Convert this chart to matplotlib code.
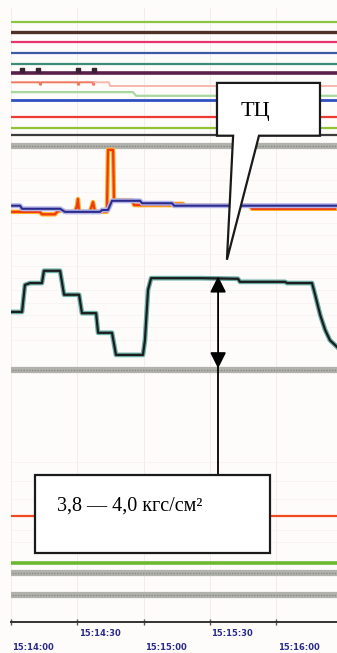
import matplotlib.pyplot as plt
from matplotlib.patches import Polygon, Rectangle
from matplotlib.transforms import blended_transform_factory

# time axis, seconds from start of record (one tick every 30 s)
tick_t = [0, 30, 60, 90, 120]
tick_lbl = ["15:14:00", "15:14:30", "15:15:00", "15:15:30", "15:16:00"]
t_end = 147.5

# flat channels at the top, chart scale 0..100
top_levels = [97.7, 96.1, 94.4, 92.7, 90.9, 89.4, 85.0, 82.2, 80.5, 79.3]
top_colors = ["#8cc63f", "#4e3029", "#e8336e", "#3d5aa6", "#3c8c78",
              "#5a1f4a", "#3050c0", "#ee3a30", "#92c232", "#3c3c3c"]
top_widths = [1.6, 2.4, 1.6, 1.6, 1.6, 2.6, 2.0, 1.6, 1.6, 1.6]

# salmon channel with small dips and a step down
salmon_t = [0.5, 13.0, 13.1, 13.6, 13.7, 30.2, 30.3, 30.8, 30.9, 37.0, 37.1, 37.6, 37.7, 44.3, 44.8, t_end]
salmon_v = [87.9, 87.9, 87.5, 87.5, 87.9, 87.9, 87.5, 87.5, 87.9, 87.9, 87.5, 87.5, 87.9, 87.9, 87.3, 87.3]

# light green channel
lgreen_t = [0.5, 55.2, 56.6, t_end]
lgreen_v = [86.3, 86.3, 85.7, 85.7]

# event marks on the purple channel
mark_t = [5.0, 12.2, 30.3, 37.6]
mark_v = [89.9, 89.9, 89.9, 89.9]

# middle panel: blue and orange step traces
blue_t = [0.5, 4.1, 5.0, 22.2, 23.1, 24.4, 40.3, 41.2, 43.9, 45.7, 58.4, 59.3, 72.9, 73.8, t_end]
blue_v = [67.8, 67.8, 67.3, 67.3, 67.1, 66.8, 66.8, 67.1, 67.1, 68.6, 68.6, 68.2, 68.2, 67.8, 67.8]

orange_t = [0.5, 13.1, 14.0, 19.9, 20.8, 23.1, 24.9, 29.0, 29.9, 30.3, 30.8, 35.7, 36.7, 37.1, 38.0,
            43.4, 43.9, 46.2, 46.6, 54.8, 55.7, 72.9, 73.8, 77.8, 78.7, 108.1, 109.1, 146.6]
orange_v = [66.8, 66.8, 66.4, 66.4, 66.8, 67.1, 66.8, 66.8, 67.9, 68.9, 66.8, 66.8, 67.9, 68.4, 66.8,
            66.8, 76.9, 76.9, 68.7, 68.7, 67.9, 67.9, 68.1, 68.1, 67.8, 67.8, 67.3, 67.3]

# lower panel: pressure trace
press_t = [0.5, 5.0, 6.3, 8.6, 14.0, 14.9, 22.2, 24.0, 30.8, 32.1, 38.5, 39.4, 45.7, 47.5, 59.7,
           60.6, 62.0, 63.4, 85.5, 102.7, 103.6, 124.0, 124.9, 136.2, 137.6, 139.9, 142.1, 144.3, 147.5]
press_v = [50.5, 50.5, 54.9, 55.2, 55.2, 57.2, 57.2, 53.3, 53.3, 50.3, 50.3, 47.1, 47.1, 43.5, 43.5,
           45.9, 54.1, 56.0, 56.0, 55.9, 55.4, 55.4, 55.2, 55.2, 53.3, 50.0, 47.6, 45.9, 44.8]

# flat channels below
band_levels = [77.5, 41.0, 8.0, 4.4]
red_level = 17.3
green_level = 9.6

fig = plt.figure(figsize=(3.37, 6.53), dpi=100)
fig.patch.set_facecolor("#fdfcfa")
ax = fig.add_axes([11 / 337, 31 / 653, 326 / 337, 614 / 653])
ax.set_facecolor("#fdfcfa")
ax.set_xlim(0, t_end)
ax.set_ylim(0, 100)

# faint paper grid
for t in tick_t:
    ax.axvline(t, color="#f4ecec", lw=0.7, zorder=0)
for y in [46, 48, 50, 52, 54, 56, 58, 60, 63, 65, 70, 72, 74, 20, 23, 26, 13, 15]:
    ax.axhline(y, color="#f6f1f1", lw=0.5, zorder=0)

for lv, c, w in zip(top_levels, top_colors, top_widths):
    ax.plot([0.5, t_end], [lv, lv], color=c, lw=w, zorder=2)
ax.plot(salmon_t[:13], salmon_v[:13], color="#f07860", lw=1.4, zorder=2)
ax.plot(salmon_t[12:], salmon_v[12:], color="#f5b8ae", lw=1.4, zorder=2)
ax.plot(lgreen_t, lgreen_v, color="#a8d8a0", lw=1.6, zorder=2)
ax.scatter(mark_t, mark_v, marker="s", s=7, color="#3a2030", zorder=3)

for lv in band_levels:
    ax.plot([0.5, t_end], [lv, lv], color="#b2b2ac", lw=4.5, zorder=2)
    ax.plot([0.5, t_end], [lv, lv], color="#8a8a86", lw=1.0, ls=(0, (1, 1)), zorder=2)

ax.plot([0.5, t_end], [red_level, red_level], color="#f04a20", lw=1.6, zorder=2)
ax.plot([0.5, t_end], [green_level, green_level], color="#6cb830", lw=2.6, zorder=2)

ax.plot(orange_t, orange_v, color="#ffb020", lw=3.2, zorder=3)
ax.plot(orange_t, orange_v, color="#f03a10", lw=1.6, zorder=3)
ax.plot(blue_t, blue_v, color="#b4b4ea", lw=3.6, zorder=4)
ax.plot(blue_t, blue_v, color="#2b2b8c", lw=1.5, zorder=4)

ax.plot(press_t, press_v, color="#6aaea6", lw=3.4, zorder=4)
ax.plot(press_t, press_v, color="#1c1c1c", lw=1.6, zorder=4)

# annotations
ax.plot([93.7, 93.7], [41.5, 23.9], color="black", lw=1.3, zorder=6)
ax.annotate("", xy=(93.7, 56.3), xytext=(93.7, 41.3),
            arrowprops=dict(arrowstyle="<|-|>", color="black", lw=1.3,
                            mutation_scale=24, shrinkA=0, shrinkB=0), zorder=6)

ax.add_patch(Rectangle((10.9, 11.2), 106.3, 12.7, facecolor="white",
                       edgecolor="#1a1a1a", lw=1.6, zorder=7))
ax.text(20.8, 18.2, "3,8 — 4,0 кгс/см²", family="Liberation Serif",
        fontsize=14.5, va="baseline", ha="left", zorder=8)

callout = [(93.2, 87.8), (139.8, 87.8), (139.8, 79.2), (112.2, 79.2),
           (97.7, 59.0), (100.5, 79.2), (93.2, 79.2)]
ax.add_patch(Polygon(callout, closed=True, facecolor="white",
                     edgecolor="#1a1a1a", lw=1.6, zorder=7))
ax.text(110.4, 83.2, "ТЦ", family="Liberation Serif", fontsize=16,
        ha="center", va="center", zorder=8)

# axis
for s in ["top", "right", "left"]:
    ax.spines[s].set_visible(False)
ax.spines["bottom"].set_color("#333333")
ax.spines["bottom"].set_linewidth(1.4)
ax.set_yticks([])
ax.set_xticks(tick_t)
ax.set_xticklabels([])
ax.tick_params(axis="x", direction="inout", length=4, width=1, color="#555555")

trans = blended_transform_factory(ax.transData, ax.transAxes)
for i, (t, lab) in enumerate(zip(tick_t, tick_lbl)):
    yoff = -0.018 if i % 2 else -0.042
    ax.text(t + 0.6, yoff, lab, transform=trans, fontsize=6, fontweight="bold",
            color="#2a2a8a", ha="left", va="center", clip_on=False)

fig.savefig("out.png", dpi=100, facecolor=fig.get_facecolor())
